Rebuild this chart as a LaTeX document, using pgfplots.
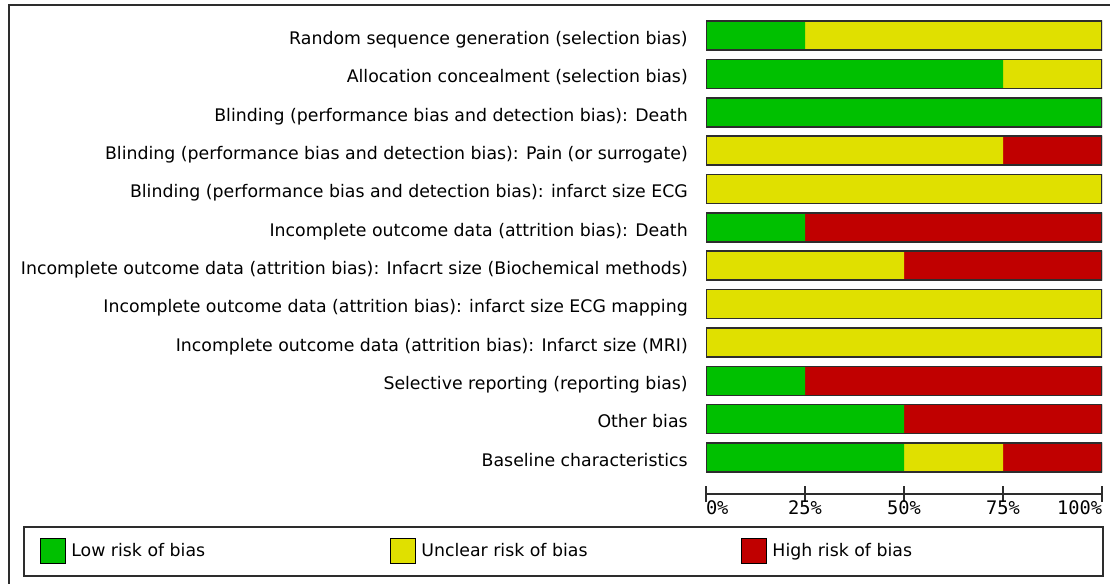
\documentclass[border=0pt]{standalone}
\usepackage{fontspec}
\setmainfont{DejaVu Sans}
\newfontfamily\tickfont{DejaVu Sans Mono}
\usepackage{pgfplots}
\pgfplotsset{compat=1.18}

\definecolor{lowrisk}{RGB}{0,192,0}
\definecolor{unclear}{RGB}{224,224,0}
\definecolor{highrisk}{RGB}{192,0,0}
\definecolor{framegray}{RGB}{45,45,45}

\begin{document}
\begin{tikzpicture}[x=0.75pt,y=-0.75pt]
\path[use as bounding box, clip] (0,0) rectangle (1110,584);
\coordinate (origin) at (706,494);
% outer frame and legend box
\draw[framegray, line width=1.5pt] (9,5) rectangle (1140,620);
\draw[framegray, line width=1.1pt] (24,527) rectangle (1103,576);

\begin{axis}[
  at={(origin)}, anchor=south west,
  scale only axis, width=297pt, height=358.2pt,
  xbar stacked, bar width=0.756,
  xmin=0, xmax=100, ymin=-0.95, ymax=11.5,
  axis x line*=bottom, axis y line*=left,
  x axis line style={framegray, line width=1.5pt, -},
  y axis line style={draw=none},
  xtick={0,25,50,75,100},
  xticklabels={\rlap{0\%},25\%,50\%,75\%,\llap{100\%}},
  xtick align=center, major tick length=12pt,
  xtick style={framegray, line width=1.1pt},
  xticklabel style={font=\tickfont\fontsize{14}{16}\selectfont, inner sep=0pt, anchor=north, yshift=1pt},
  ytick={0,...,11},
  ytick style={draw=none},
  yticklabels={
    {Baseline characteristics},
    {Other bias},
    {Selective reporting (reporting bias)},
    {Incomplete outcome data (attrition bias): Infarct size (MRI)},
    {Incomplete outcome data (attrition bias): infarct size ECG mapping},
    {Incomplete outcome data (attrition bias): Infacrt size (Biochemical methods)},
    {Incomplete outcome data (attrition bias): Death},
    {Blinding (performance bias and detection bias): infarct size ECG},
    {Blinding (performance bias and detection bias): Pain (or surrogate)},
    {Blinding (performance bias and detection bias): Death},
    {Allocation concealment (selection bias)},
    {Random sequence generation (selection bias)}},
  yticklabel style={font=\fontsize{13}{15}\selectfont, inner sep=0pt, anchor=base east, xshift=-13.5pt, yshift=-6.6pt},
  legend columns=3,
  legend cell align=left,
  legend style={draw=none, fill=none, at={(-1.6818,-0.0921)}, anchor=north west,
    inner sep=0pt, column sep=0pt, row sep=0pt,
    nodes={inner sep=0pt}, font=\fontsize{13}{15}\selectfont},
  legend image code/.code={\draw[#1,draw=black,line width=0.8pt] (0pt,-9.4pt) rectangle (18.75pt,9.4pt);},
]
\addplot[fill=lowrisk, draw=none] coordinates {
  (25,11) (75,10) (100,9) (0,8) (0,7) (25,6) (0,5) (0,4) (0,3) (25,2) (50,1) (50,0)};
\addlegendentry{\makebox[243pt][l]{\hspace{3.75pt}Low risk of bias}}
\addplot[fill=unclear, draw=none] coordinates {
  (75,11) (25,10) (0,9) (75,8) (100,7) (0,6) (50,5) (100,4) (100,3) (0,2) (0,1) (25,0)};
\addlegendentry{\makebox[243.75pt][l]{\hspace{3.75pt}Unclear risk of bias}}
\addplot[fill=highrisk, draw=none] coordinates {
  (0,11) (0,10) (0,9) (25,8) (0,7) (75,6) (50,5) (0,4) (0,3) (75,2) (50,1) (25,0)};
\addlegendentry{\hspace{3.75pt}High risk of bias}
\end{axis}

% outlines of the whole bars
\begin{axis}[
  at={(origin)}, anchor=south west,
  scale only axis, width=297pt, height=358.2pt,
  hide axis, xbar, bar width=0.756,
  xmin=0, xmax=100, ymin=-0.95, ymax=11.5,
]
\addplot[fill=none, draw=framegray, line width=1.2pt] coordinates {
  (100,0) (100,1) (100,2) (100,3) (100,4) (100,5) (100,6) (100,7) (100,8) (100,9) (100,10) (100,11)};
\end{axis}
\end{tikzpicture}
\end{document}
